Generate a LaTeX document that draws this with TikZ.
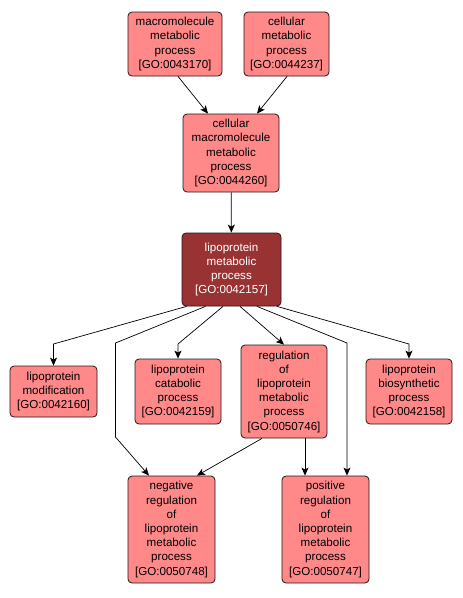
\documentclass[tikz,border=0pt]{standalone}
\usepackage{fontspec}
\setmainfont{Liberation Sans}
\usepackage{xcolor}
\usetikzlibrary{arrows.meta, positioning, calc}
\definecolor{termfill}{RGB}{255,136,136}
\definecolor{rootfill}{RGB}{153,51,51}
\definecolor{termline}{RGB}{40,20,20}

\begin{document}
\begin{tikzpicture}[
  x=1pt, y=-1pt,
  term/.style={draw=termline, rounded corners=4pt, line width=0.8pt, align=center, inner sep=0pt, fill=termfill,
    font=\fontsize{11.6}{14.2}\selectfont},
  focus/.style={term, fill=rootfill, text=white},
  arrow/.style={-{Stealth[length=8pt, width=7pt, inset=2pt]}, line width=0.7pt}
]
\useasboundingbox (0,0) rectangle (463,598);

\node[term, minimum width=94pt, minimum height=64pt] (macro) at (175,44) {macromolecule\\metabolic\\process\\{[GO:0043170]}};
\node[term, minimum width=85pt, minimum height=64pt] (cellular) at (286.5,44) {cellular\\metabolic\\process\\{[GO:0044237]}};
\node[term, minimum width=96pt, minimum height=78pt] (cellmacro) at (231,153) {cellular\\macromolecule\\metabolic\\process\\{[GO:0044260]}};
\node[focus, minimum width=99pt, minimum height=73pt] (lipo) at (231.5,269.5) {lipoprotein\\metabolic\\process\\{[GO:0042157]}};
\node[term, minimum width=87pt, minimum height=51pt] (modif) at (53.5,391.5) {lipoprotein\\modification\\{[GO:0042160]}};
\node[term, minimum width=86pt, minimum height=65pt] (catab) at (178,391.5) {lipoprotein\\catabolic\\process\\{[GO:0042159]}};
\node[term, minimum width=86pt, minimum height=93pt] (regul) at (284,391.5) {regulation\\of\\lipoprotein\\metabolic\\process\\{[GO:0050746]}};
\node[term, minimum width=86pt, minimum height=65pt] (biosyn) at (409,391.5) {lipoprotein\\biosynthetic\\process\\{[GO:0042158]}};
\node[term, minimum width=87pt, minimum height=107pt] (negreg) at (171.5,529.5) {negative\\regulation\\of\\lipoprotein\\metabolic\\process\\{[GO:0050748]}};
\node[term, minimum width=87pt, minimum height=107pt] (posreg) at (325.5,529.5) {positive\\regulation\\of\\lipoprotein\\metabolic\\process\\{[GO:0050747]}};

% bend points
\coordinate (kmodif) at (53.5,344);
\coordinate (knegA) at (115.5,343);
\coordinate (knegB) at (115.5,437);
\coordinate (kcatab) at (178,344);
\coordinate (kposreg) at (347,343);
\coordinate (kbiosyn) at (409,344);

\draw[arrow] ([xshift=3pt]macro.south) -- ([xshift=-23pt]cellmacro.north);
\draw[arrow] ([xshift=0.5pt]cellular.south) -- ([xshift=26pt]cellmacro.north);
\draw[arrow] (cellmacro) -- (lipo);
\draw[arrow] ([xshift=-45pt]lipo.south) -- (kmodif) -- (modif.north);
\draw[arrow] ([xshift=-26pt]lipo.south) -- (knegA) -- (knegB) -- ([xshift=-22.5pt]negreg.north);
\draw[arrow] ([xshift=-8.5pt]lipo.south) -- (kcatab) -- (catab.north);
\draw[arrow] ([xshift=8.5pt]lipo.south) -- (regul.north);
\draw[arrow] ([xshift=25.5pt]lipo.south) -- (kposreg) -- ([xshift=21.5pt]posreg.north);
\draw[arrow] ([xshift=45.5pt]lipo.south) -- (kbiosyn) -- (biosyn.north);
\draw[arrow] ([xshift=-22pt]regul.south) -- ([xshift=25.5pt]negreg.north);
\draw[arrow] ([xshift=21pt]regul.south) -- ([xshift=-20.5pt]posreg.north);
\end{tikzpicture}
\end{document}
